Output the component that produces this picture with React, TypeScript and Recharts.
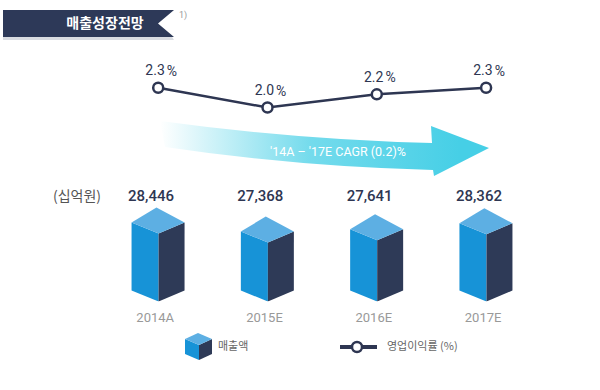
import { ComposedChart, Bar, Line, XAxis, YAxis, LabelList } from "recharts"

const years = ["2014A", "2015E", "2016E", "2017E"]
const sales = [28446, 27368, 27641, 28362]
const margins = [2.3, 2.0, 2.2, 2.3]

const salesDomain = [20302, 49224]
const marginDomain = [-0.948, 2.722]

const NAVY = "#2e3652"
const FONT = "Roboto, 'Noto Sans CJK KR', sans-serif"
const KFONT = "'Noto Sans CJK KR', sans-serif"
const LABEL_Y = 197

const data = years.map((year, i) => ({ year, sales: sales[i], margin: margins[i] }))

// 3D box drawn from the bar rect
function Cube(props: any) {
  const { x, y, width, height } = props
  const w = width
  const wf = w * 0.51
  const k = 11
  const base = y + height
  const front = `${x},${y - k} ${x + wf},${y} ${x + wf},${base} ${x},${base - k}`
  const side = `${x + wf},${y} ${x + w},${y - k} ${x + w},${base - k} ${x + wf},${base}`
  const top = `${x},${y - k} ${x + w * 0.47},${y - 26} ${x + w},${y - k} ${x + wf},${y}`
  return (
    <g>
      <polygon points={front} fill="#1793d7" />
      <polygon points={side} fill="#2e3a57" />
      <polygon points={top} fill="#5dafe3" />
    </g>
  )
}

function SalesLabel(props: any) {
  const { x, width, value } = props
  return (
    <text x={x + width / 2 - 7} y={LABEL_Y} textAnchor="middle" dominantBaseline="middle"
      fill={NAVY} fontSize={15} fontWeight={500} fontFamily={FONT}>
      {Number(value).toLocaleString("en-US")}
    </text>
  )
}

function MarginLabel(props: any) {
  const { x, y, value } = props
  return (
    <text x={x + 3} y={y - 16} textAnchor="middle" dominantBaseline="middle"
      fill={NAVY} fontSize={14} fontFamily={FONT}>
      {Number(value).toFixed(1)}
      <tspan dx={2}>%</tspan>
    </text>
  )
}

function Overlay() {
  return (
    <svg width={600} height={390} style={{ position: "absolute", left: 0, top: 0 }}>
      <defs>
        <linearGradient id="arrowGrad" gradientUnits="userSpaceOnUse" x1={160} y1={0} x2={460} y2={0}>
          <stop offset="0" stopColor="#46cfe6" stopOpacity={0} />
          <stop offset="0.5" stopColor="#46cfe6" stopOpacity={0.75} />
          <stop offset="1" stopColor="#46cfe6" stopOpacity={1} />
        </linearGradient>
      </defs>

      {/* title banner */}
      <path d="M3 37 L172 37 L174 40 L3 40 Z" fill="#d9dce2" />
      <path d="M3 10 L174 10 L158 23.5 L174 37 L3 37 Z" fill="#2d3958" />
      <text x={105} y={24} textAnchor="middle" dominantBaseline="middle" fill="#fff"
        fontSize={14} fontWeight={700} fontFamily={KFONT}>매출성장전망</text>
      <text x={183} y={16} textAnchor="middle" dominantBaseline="middle" fill="#999"
        fontSize={9} fontFamily={FONT}>1)</text>

      {/* CAGR arrow */}
      <path d="M160 121 Q300 140 432 143 L431 126 L489 148 L434 176 L433 170 Q300 167 165 147 Z"
        fill="url(#arrowGrad)" />
      <text x={338} y={153} textAnchor="middle" dominantBaseline="middle" fill="#fff"
        fontSize={12.5} fontFamily={FONT}>{"'14A – '17E  CAGR (0.2)%"}</text>

      {/* unit */}
      <text x={53} y={197} dominantBaseline="middle" fill="#555" fontSize={14} fontFamily={KFONT}>(십억원)</text>

      {/* legend */}
      <polygon points="185,339 199,345 199,360 185,354" fill="#1793d7" />
      <polygon points="199,345 212,339 212,354 199,360" fill="#2e3a57" />
      <polygon points="185,339 198,333 212,339 199,345" fill="#5dafe3" />
      <text x={218} y={347} dominantBaseline="middle" fill="#666" fontSize={11} fontFamily={KFONT}>매출액</text>
      <line x1={340} y1={347} x2={377} y2={347} stroke={NAVY} strokeWidth={4} />
      <circle cx={357} cy={347} r={5} fill="#fff" stroke={NAVY} strokeWidth={2.5} />
      <text x={387} y={347} dominantBaseline="middle" fill="#666" fontSize={11} fontFamily={KFONT}>영업이익률 (%)</text>
    </svg>
  )
}

export default function App() {
  return (
    <div style={{ position: "fixed", left: 0, top: 0, width: 600, height: 390, background: "#fff" }}>
      <Overlay />
      <div style={{ position: "absolute", left: 0, top: 0 }}>
        <ComposedChart width={600} height={390} data={data}
          margin={{ top: 60, right: 59.25, left: 103.55, bottom: 58.5 }}>
          <XAxis dataKey="year" axisLine={false} tickLine={false} interval={0} height={30} tickMargin={5}
            tick={{ fill: "#999", fontSize: 13, fontFamily: FONT, dx: -3 }} />
          <YAxis yAxisId="sales" hide domain={salesDomain} allowDataOverflow />
          <YAxis yAxisId="margin" hide orientation="right" domain={marginDomain} allowDataOverflow />
          <Bar yAxisId="sales" dataKey="sales" barSize={53} shape={<Cube />} isAnimationActive={false}>
            <LabelList dataKey="sales" content={<SalesLabel />} />
          </Bar>
          <Line yAxisId="margin" dataKey="margin" stroke={NAVY} strokeWidth={2.5}
            dot={{ r: 5, fill: "#fff", stroke: NAVY, strokeWidth: 2.5 }} activeDot={false}
            isAnimationActive={false}>
            <LabelList dataKey="margin" content={<MarginLabel />} />
          </Line>
        </ComposedChart>
      </div>
    </div>
  )
}
